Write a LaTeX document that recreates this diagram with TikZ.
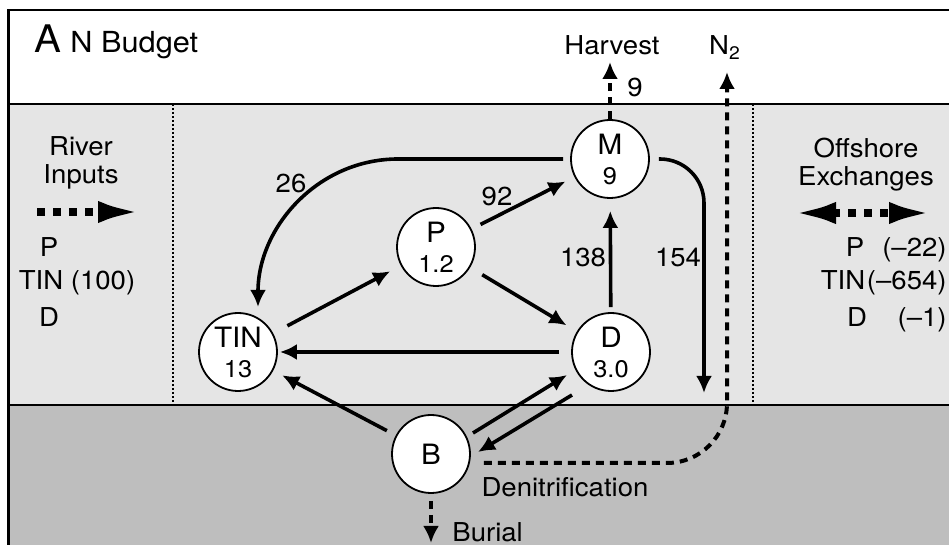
\documentclass[tikz,border=0pt]{standalone}
\usepackage{fontspec}
\setmainfont{TeX Gyre Heros}[FakeStretch=1.06]
\usepackage{xcolor}
\usetikzlibrary{arrows.meta}

\definecolor{water}{gray}{0.90}
\definecolor{sediment}{gray}{0.745}
\newcommand{\amt}[1]{\\{\fontsize{12}{15}\selectfont #1}}

\begin{document}
\begin{tikzpicture}[x=0.5pt,y=-0.5pt,
  pool/.style={circle, draw, line width=0.9pt, fill=white, minimum size=39pt, inner sep=0pt, align=center, font=\fontsize{14}{15}\selectfont},
  lbl/.style={inner sep=0pt, font=\fontsize{13}{14}\selectfont},
  flow/.style={line width=1.8pt, -{Latex[length=8.5pt,width=8pt]}},
  loss/.style={line width=2pt, dash pattern=on 4pt off 3pt, -{Latex[length=8.5pt,width=8pt]}},
  bigflow/.style={line width=4pt, dash pattern=on 4pt off 4pt, -{Latex[length=22pt,width=11pt]}},
  divider/.style={line width=1.2pt, dash pattern=on 1pt off 1pt}]
\useasboundingbox (0,0) rectangle (949,545);
% Layers
\fill[white] (0,0) rectangle (949,545);
\fill[water] (8,104) rectangle (949,405);
\fill[sediment] (8,405) rectangle (949,545);
\draw[line width=1pt] (7,10) -- (949,10);
\draw[line width=1.5pt] (8,10) -- (8,545);
\draw[line width=1pt] (8,104) -- (949,104);
\draw[line width=1pt] (8,405) -- (949,405);
\draw[divider] (173,104) -- (173,405);
\draw[divider] (753,104) -- (753,405);

% Points
\node[pool] (M) at (610,159) {M\amt{9}};
\node[pool] (P) at (436,247) {P\amt{1.2}};
\node[pool] (D) at (611,352) {D\amt{3.0}};
\node[pool] (TIN) at (238,352) {TIN\amt{13}};
\node[pool] (B) at (431,454) {B};

\coordinate (hv) at (610,62);
\coordinate (n2) at (727,72);
\coordinate (sea) at (704,393);
\coordinate (bur) at (431,543);
\coordinate (riv0) at (37,212);
\coordinate (riv1) at (142,212);
\coordinate (off0) at (792,213);
\coordinate (off1) at (933,213);

% Texts
\node[lbl, anchor=base west, font=\fontsize{19}{20}\selectfont] (panel) at (34,53) {A};
\node[lbl, anchor=base west, font=\fontsize{14.5}{16}\selectfont] (title) at (70,53) {N Budget};
\node[lbl, anchor=base] (harvest) at (612,55) {Harvest};
\node[lbl, anchor=base] (ntwo) at (725,55) {N\textsubscript{2}};
\node[lbl] (denit) at (565,487) {Denitrification};
\node[lbl, anchor=west] (burial) at (452,532) {Burial};
\node[lbl, align=center] (river) at (81,163) {River\\Inputs};
\node[lbl, align=center] (offshore) at (866,165) {Offshore\\Exchanges};
\node[lbl, anchor=base] (rp) at (49,257) {P};
\node[lbl, anchor=base] (rtin) at (77,290) {TIN (100)};
\node[lbl, anchor=base] (rd) at (49,327) {D};
\node[lbl, anchor=base] (op) at (855,257) {P};
\node[lbl, anchor=base] (otin) at (843,290) {TIN};
\node[lbl, anchor=base] (od) at (857,327) {D};
\node[lbl, anchor=base east] (opv) at (947,257) {(\textendash22)};
\node[lbl, anchor=base east] (otinv) at (947,290) {(\textendash654)};
\node[lbl, anchor=base east] (odv) at (947,327) {(\textendash1)};
\node[lbl] (f26) at (291,183) {26};
\node[lbl] (f92) at (497,196) {92};
\node[lbl] (f138) at (583,257) {138};
\node[lbl] (f154) at (678,257) {154};
\node[lbl] (f9) at (635,87) {9};

%Lines
\draw[flow, shorten <=8pt, shorten >=6pt] (TIN) -- (P);
\draw[flow, shorten <=5pt, shorten >=5pt] (P) -- (M);
\draw[flow, shorten <=7pt, shorten >=6pt] (P) -- (D);
\draw[flow, shorten <=2.5pt, shorten >=6pt] (D) -- (M);
\draw[flow, shorten <=6pt, shorten >=1pt] (D) -- (TIN);
\draw[flow, shorten <=5pt, shorten >=5pt] (B) -- (TIN);
\draw[flow] ([shift={(42,-21)}]B.center) -- ([shift={(-44,23)}]D.center);
\draw[flow] ([shift={(-39,43)}]D.center) -- ([shift={(47,-2)}]B.center);
\draw[flow, shorten <=3.5pt] (M.west) -- ++(-172,0) .. controls +(-80,0) and +(0,-80) .. ([shift={(20,-45)}]TIN.center);
\draw[flow, rounded corners=22pt, shorten <=4.5pt] (M.east) -| (sea);
\draw[loss] (M.north) -- (hv);
\draw[loss, rounded corners=30pt] ([shift={(13,9)}]B.east) -| (n2);
\draw[loss, shorten <=3.5pt] (B.south) -- (bur);
\draw[bigflow] (riv0) -- (riv1);
\draw[bigflow, {Latex[length=22pt,width=11pt]}-{Latex[length=22pt,width=11pt]}] (off0) -- (off1);
\end{tikzpicture}
\end{document}
